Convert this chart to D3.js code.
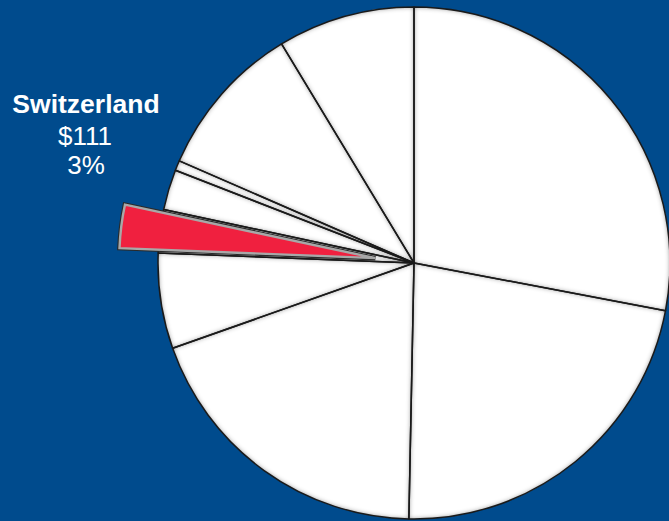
<!DOCTYPE html>
<html>
<head>
<meta charset="utf-8">
<script src="https://cdn.jsdelivr.net/npm/d3@7"></script>
<style>
  html, body { margin: 0; padding: 0; background: #004B8D; overflow: hidden; }
  svg { display: block; }
</style>
</head>
<body>
<svg id="chart" width="669" height="521"></svg>
<script>
// Holdings by country, in millions of dollars
const countries = ["United Kingdom", "Japan", "Germany", "France", "Switzerland",
                   "Netherlands", "Belgium", "Canada", "Italy"];
const amounts = [1141, 911, 786, 246, 111, 104, 26, 400, 353];
const highlighted = "Switzerland";

const width = 669, height = 521;
const cx = 414, cy = 263, radius = 256, explodeBy = 39;

const data = countries.map((c, i) => ({ country: c, amount: amounts[i] }));
const total = d3.sum(amounts);

const svg = d3.select("#chart");
const defs = svg.append("defs");

// Soft darkening along the inside of every wedge edge
const inner = defs.append("filter").attr("id", "innerShade")
  .attr("filterUnits", "userSpaceOnUse")
  .attr("x", -radius - 20).attr("y", -radius - 20)
  .attr("width", 2 * radius + 40).attr("height", 2 * radius + 40);
inner.append("feFlood").attr("flood-color", "#000").attr("flood-opacity", 0.95).attr("result", "flood");
inner.append("feComposite").attr("in", "flood").attr("in2", "SourceAlpha").attr("operator", "out").attr("result", "outside");
inner.append("feGaussianBlur").attr("in", "outside").attr("stdDeviation", 2.6).attr("result", "blur");
inner.append("feComposite").attr("in", "blur").attr("in2", "SourceAlpha").attr("operator", "in").attr("result", "shade");
const merge = inner.append("feMerge");
merge.append("feMergeNode").attr("in", "SourceGraphic");
merge.append("feMergeNode").attr("in", "shade");

const pie = d3.pie().sort(null).value(d => d.amount);
const arc = d3.arc().innerRadius(0).outerRadius(radius);
const arcs = pie(data);

const g = svg.append("g").attr("transform", `translate(${cx},${cy})`);

// White wedges (the highlighted slot is kept white underneath its pulled-out wedge)
g.selectAll("path.slice")
  .data(arcs)
  .join("path")
  .attr("class", "slice")
  .attr("d", arc)
  .attr("fill", "#ffffff")
  .attr("filter", "url(#innerShade)");

// Crisp dark outlines on top of the shading
g.selectAll("path.edge")
  .data(arcs)
  .join("path")
  .attr("class", "edge")
  .attr("d", arc)
  .attr("fill", "none")
  .attr("stroke", "#1a1a1a")
  .attr("stroke-width", 1.5)
  .attr("stroke-linejoin", "round");

// Pulled-out highlighted wedge
const hi = arcs.find(a => a.data.country === highlighted);
const mid = (hi.startAngle + hi.endAngle) / 2;
const off = [Math.sin(mid) * explodeBy, -Math.cos(mid) * explodeBy];
const hg = g.append("g").attr("transform", `translate(${off[0]},${off[1]})`);
hg.append("path")
  .attr("d", arc(hi))
  .attr("fill", "none")
  .attr("stroke", "#2a2a2a")
  .attr("stroke-width", 4.6)
  .attr("stroke-linejoin", "miter");
hg.append("path")
  .attr("d", arc(hi))
  .attr("fill", "#F0203F")
  .attr("stroke", "#a8a8a8")
  .attr("stroke-width", 2.4)
  .attr("stroke-linejoin", "miter");

// Callout for the highlighted country
const label = svg.append("text")
  .attr("text-anchor", "middle")
  .attr("fill", "#ffffff")
  .attr("font-family", "'Liberation Sans', Arial, sans-serif")
  .attr("font-size", 26);
label.append("tspan").attr("x", 86).attr("y", 113)
  .attr("font-weight", "bold").attr("font-size", 26.5).text(hi.data.country);
label.append("tspan").attr("x", 85).attr("y", 145)
  .text("$" + hi.data.amount);
label.append("tspan").attr("x", 86).attr("y", 174)
  .text(Math.round(hi.data.amount / total * 100) + "%");
</script>
</body>
</html>
